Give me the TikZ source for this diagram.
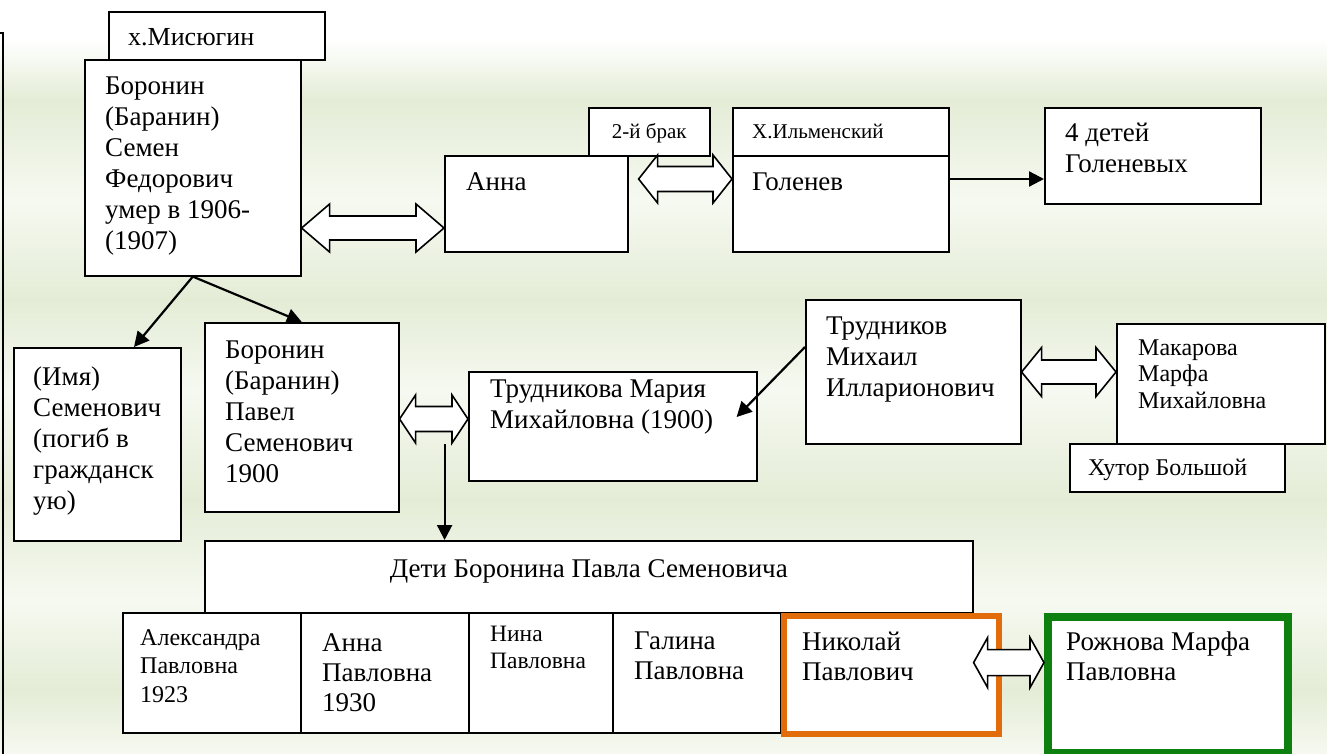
\documentclass[tikz,border=0pt]{standalone}
\usepackage{fontspec}
\setmainfont{Liberation Serif}
\usetikzlibrary{calc,arrows.meta}
\definecolor{bgG}{HTML}{E4ECD6}
\definecolor{bgL}{HTML}{F6F9F1}
\definecolor{orangeB}{HTML}{E36C0A}
\definecolor{greenB}{HTML}{0E8010}
\tikzset{
  box/.style={draw, line width=1.6pt, fill=white, rectangle, inner sep=0pt, anchor=north west},
  txt/.style={inner sep=0pt, anchor=base west},
  blk/.style={draw, line width=1.6pt, fill=white, line join=miter},
  conn/.style={line width=2.2pt, -{Triangle[length=15pt,width=15pt]}},
  big/.style={font=\fontsize{27}{31}\selectfont},
  mid/.style={font=\fontsize{27}{30}\selectfont},
  sml/.style={font=\fontsize{24}{26.5}\selectfont},
  tiny/.style={font=\fontsize{21}{24}\selectfont},
}
\newcommand\ml[1]{\vtop{\halign{##\hfil\cr#1\crcr}}}
\newcommand\bx[6][]{\node[box,#1,minimum width={(#5-#3)*1pt},minimum height={(#6-#4)*1pt}] (#2) at (#3,#4) {};}
\newcommand\dbl[5]{\draw[blk] let \p1=#1, \p2=#2 in
  (\x1,\y1) -- (\x1+#3pt,\y1+#4pt) -- (\x1+#3pt,\y1+#5pt) -- (\x2-#3pt,\y1+#5pt) -- (\x2-#3pt,\y1+#4pt)
  -- (\x2,\y1) -- (\x2-#3pt,\y1-#4pt) -- (\x2-#3pt,\y1-#5pt) -- (\x1+#3pt,\y1-#5pt) -- (\x1+#3pt,\y1-#4pt) -- cycle;}
\newcommand\band[4]{\shade[top color=#3, bottom color=#4] (0,#1) rectangle (1327,#2);}
\begin{document}
\begin{tikzpicture}[x=1pt,y=-1pt]
\useasboundingbox (0,0) rectangle (1327,754);
% background
\fill[white] (0,0) rectangle (1327,40);
\band{40}{100}{white}{bgG}
\band{100}{200}{bgG}{bgL}
\band{200}{300}{bgL}{bgG}
\band{300}{390}{bgG}{bgL}
\band{390}{500}{bgL}{bgG}
\band{500}{600}{bgG}{bgL}
\band{600}{690}{bgL}{bgG}
\band{690}{754}{bgG}{bgL}
% left edge
\draw[line width=1.6pt] (0,33) -- (3,33) -- (3,754);

% top row
\bx{mis}{108}{11}{324}{59}
\bx{sem}{84}{59}{300}{275}
\node[txt,font=\fontsize{26}{30}\selectfont] (tmis) at ($(mis.north west)+(20,35)$) {х.Мисюгин};
\node[txt,big] (tsem) at ($(sem.north west)+(21,36)$) {\ml{Боронин\cr(Баранин)\cr Семен\cr Федорович\cr умер в 1906-\cr(1907)}};

\bx{anna}{444}{155}{627}{251}
\bx{brak}{588}{107}{709}{155}
\node[tiny,inner sep=0pt,anchor=base] (tbrak) at ($(brak.north)+(0,32)$) {2-й брак};
\node[txt,big] (tanna) at ($(anna.north west)+(22,35)$) {Анна};

\bx{ilm}{732}{107}{948}{155}
\bx{gol}{732}{155}{948}{251}
\node[txt,tiny] (tilm) at ($(ilm.north west)+(20,32)$) {Х.Ильменский};
\node[txt,big] (tgol) at ($(gol.north west)+(20,35)$) {Голенев};

\bx{det4}{1044}{107}{1260}{203}
\node[txt,big] (tdet4) at ($(det4.north west)+(21,35)$) {\ml{4 детей\cr Голеневых}};

% middle row
\bx{imya}{13}{347}{180}{540}
\node[txt,big] (timya) at ($(imya.north west)+(20,38)$) {\ml{(Имя)\cr Семенович\cr(погиб в\cr гражданск\cr ую)}};

\bx{pavel}{204}{322}{398}{511}
\node[txt,big] (tpavel) at ($(pavel.north west)+(21,36)$) {\ml{Боронин\cr(Баранин)\cr Павел\cr Семенович\cr 1900}};

\bx{truda}{468}{371}{756}{480}
\node[txt,big] (ttruda) at ($(truda.north west)+(22,26)$) {\ml{Трудникова Мария\cr Михайловна (1900)}};

\bx{trudm}{805}{299}{1020}{443}
\node[txt,big] (ttrudm) at ($(trudm.north west)+(21,35)$) {\ml{Трудников\cr Михаил\cr Илларионович}};

\bx{mak}{1116}{323}{1324}{443}
\node[txt,sml] (tmak) at ($(mak.north west)+(22,32)$) {\ml{Макарова\cr Марфа\cr Михайловна}};

\bx{hut}{1069}{443}{1284}{491}
\node[txt,sml] (thut) at ($(hut.north west)+(19,32)$) {Хутор Большой};

% bottom
\bx{deti}{204}{540}{972}{612}
\node[mid,inner sep=0pt,anchor=base] (tdeti) at ($(deti.north)+(0,37)$) {Дети Боронина Павла Семеновича};

\bx{ca}{122}{612}{300}{732}
\bx{cb}{300}{612}{468}{732}
\bx{cc}{468}{612}{612}{732}
\bx{cd}{612}{612}{780}{732}
\node[txt,font=\fontsize{24}{28.5}\selectfont] (tca) at ($(ca.north west)+(18,33)$) {\ml{Александра\cr Павловна\cr 1923}};
\node[txt,mid] (tcb) at ($(cb.north west)+(22,39)$) {\ml{Анна\cr Павловна\cr 1930}};
\node[txt,font=\fontsize{23.5}{27}\selectfont] (tcc) at ($(cc.north west)+(22,29)$) {\ml{Нина\cr Павловна}};
\node[txt,mid] (tcd) at ($(cd.north west)+(22,37)$) {\ml{Галина\cr Павловна}};

\bx[draw=orangeB,line width=6pt]{nik}{781}{613}{996}{731}
\node[txt,mid] (tnik) at ($(nik.north west)+(21,37)$) {\ml{Николай\cr Павлович}};

\bx[draw=greenB,line width=8pt]{rozh}{1044}{613}{1284}{749}
\node[txt,mid] (trozh) at ($(rozh.north west)+(22,37)$) {\ml{Рожнова Марфа\cr Павловна}};

% block double arrows
\coordinate (a1) at ($(sem.north east)+(0,169)$);
\dbl{(a1)}{(a1 -| anna.west)}{28}{24}{12}
\coordinate (a2) at ($(anna.north east)+(10,24)$);
\dbl{(a2)}{(a2 -| gol.west)}{19}{24}{12.5}
\coordinate (a3) at ($(pavel.north east)+(0,97)$);
\dbl{(a3)}{(a3 -| truda.west)}{16}{24}{12.5}
\coordinate (a4) at ($(trudm.north east)+(0,73)$);
\dbl{(a4)}{(a4 -| mak.west)}{20}{24.5}{12}
\coordinate (a5) at ($(deti.south east)+(0,49)$);
\dbl{(a5)}{(a5 -| rozh.west)}{14}{25}{13}

% connectors
\coordinate (sb) at (sem.south);
\draw[conn] (sb) -- ($(imya.north west)+(121,0)$);
\draw[conn] (sb) -- (pavel.north);
\coordinate (ps) at ($(pavel.north east)+(45,122)$);
\draw[conn] (ps) -- (ps |- deti.north);
\coordinate (tm) at ($(trudm.north west)+(0,48)$);
\coordinate (tt) at ($(truda.north east)+(-21,46)$);
\draw[conn] (tm) -- (tt);
\coordinate (gs) at ($(gol.north east)+(0,24)$);
\draw[conn] (gs) -- (gs -| det4.west);
\end{tikzpicture}
\end{document}
